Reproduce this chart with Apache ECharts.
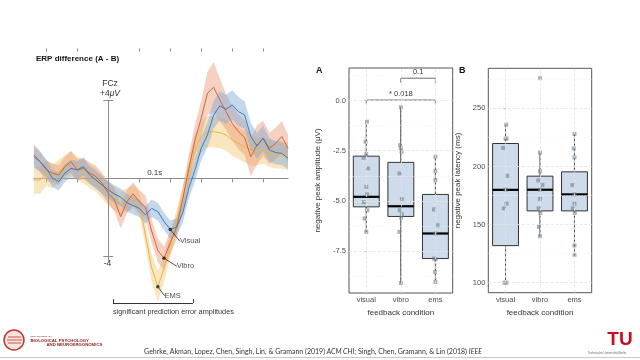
<!DOCTYPE html>
<html>
<head>
<meta charset="utf-8">
<script src="https://cdn.jsdelivr.net/npm/echarts@6/dist/echarts.min.js"></script>
<style>
html, body { margin: 0; padding: 0; background: #fff; }
#main { width: 640px; height: 360px; }
</style>
</head>
<body>
<div id="main"></div>
<script>
// ERP difference waves (uV), sampled every 20 ms
var times = [-0.24, -0.22, -0.20, -0.18, -0.16, -0.14, -0.12, -0.10, -0.08, -0.06, -0.04, -0.02,
	0.00, 0.02, 0.04, 0.06, 0.08, 0.10, 0.12, 0.14, 0.16, 0.18, 0.20, 0.22, 0.24, 0.26, 0.28, 0.30,
	0.32, 0.34, 0.36, 0.38, 0.40, 0.42, 0.44, 0.46, 0.48, 0.50, 0.52, 0.54, 0.56, 0.58];
var visualMean = [1.11, 0.85, 0.51, 0.0, -0.17, 0.26, 0.51, 0.43, 0.6, 0.17, -0.09, -0.34,
	-0.6, -0.8, -0.97, -1.25, -1.4, -1.54, -1.88, -1.54, -1.71, -2.22, -2.62, -2.51, -1.8, -0.5, 0.43, 1.54,
	2.22, 3.25, 3.71, 3.54, 3.76, 3.42, 3.25, 2.14, 1.66, 2.05, 1.45, 1.32, 1.28, 1.03];
var vibroMean = [1.2, 0.85, 0.43, 0.26, 0.17, 0.6, 0.85, 0.43, 0.51, 0.26, 0.09, -0.26,
	-0.77, -1.11, -1.97, -1.2, -0.8, -1.2, -1.5, -2.7, -3.7, -4.1, -3.3, -2.56, -1.1, 0.5, 1.97, 3.08,
	4.36, 4.67, 4.02, 3.42, 2.82, 2.39, 2.09, 1.11, 1.71, 2.05, 1.54, 1.79, 2.14, 1.54];
var emsMean = [-0.09, -0.09, 0.26, 0.09, 0.34, 0.6, 0.77, 0.51, 0.34, 0.09, -0.09, -0.43,
	-0.77, -1.03, -1.28, -1.11, -0.94, -1.28, -2.9, -4.6, -5.56, -4.62, -3.42, -2.22, -1.03, 0.26, 1.45, 2.14,
	2.39, 2.39, 2.34, 2.22, 1.97, 1.79, 1.62, 1.45, 1.37, 1.45, 1.28, 1.2, 1.2, 1.11];
// half width of the shaded bands
var visualCI = [0.55, 0.5, 0.45, 0.45, 0.45, 0.45, 0.45, 0.45, 0.45, 0.45, 0.45, 0.45,
	0.45, 0.45, 0.45, 0.45, 0.45, 0.45, 0.45, 0.45, 0.45, 0.45, 0.45, 0.45, 0.5, 0.55, 0.6, 0.6,
	0.65, 0.7, 0.75, 0.75, 0.75, 0.75, 0.7, 0.7, 0.65, 0.65, 0.6, 0.6, 0.6, 0.55];
var vibroCI = [0.55, 0.55, 0.5, 0.5, 0.5, 0.5, 0.55, 0.55, 0.55, 0.55, 0.55, 0.55,
	0.55, 0.6, 0.6, 0.6, 0.6, 0.6, 0.6, 0.6, 0.6, 0.6, 0.6, 0.6, 0.6, 0.7, 0.8, 0.9,
	1.1, 1.3, 1.1, 0.9, 0.9, 0.9, 0.9, 1.0, 1.0, 0.9, 0.8, 0.8, 0.8, 0.7];
var emsCI = [0.7, 0.7, 0.65, 0.6, 0.6, 0.6, 0.6, 0.6, 0.6, 0.6, 0.6, 0.6,
	0.6, 0.6, 0.6, 0.6, 0.6, 0.6, 0.6, 0.7, 0.8, 0.7, 0.6, 0.6, 0.6, 0.7, 0.8, 0.8,
	0.8, 0.8, 0.8, 0.8, 0.8, 0.8, 0.8, 0.8, 0.7, 0.7, 0.7, 0.7, 0.7, 0.7];
var erpTicks = [-0.2, -0.1, 0.1, 0.2, 0.3, 0.4, 0.5];
var sigWindow = [0.015, 0.273];
var peakNames = ['Visual', 'Vibro', 'EMS'];

// boxplots: [min, Q1, median, Q3, max]
var conditions = ['visual', 'vibro', 'ems'];
var ampBox = [[-6.55, -5.3, -4.8, -2.77, -1.05], [-9.1, -5.78, -5.27, -3.08, -0.33], [-9.05, -7.88, -6.63, -4.68, -2.8]];
var latBox = [[100, 131.9, 179.9, 219.8, 236.2], [140, 161.8, 180, 191.7, 211.8], [123.6, 161.8, 176, 195.4, 227.9]];
// single subjects: [condition, value, jitter]
var ampPoints = [
	[0, -1.05, 0.02], [0, -2.05, -0.02], [0, -2.67, 0], [0, -2.85, -0.08], [0, -3.38, 0.05], [0, -4.3, 0],
	[0, -4.68, 0.02], [0, -5.07, -0.07], [0, -5.47, 0.03], [0, -5.88, -0.05], [0, -6.55, 0],
	[1, -0.33, 0], [1, -2.22, -0.02], [1, -2.38, 0], [1, -2.55, 0.02], [1, -3.63, -0.04], [1, -4.92, 0.03],
	[1, -5.47, -0.03], [1, -5.68, 0.03], [1, -5.85, 0.01], [1, -6.55, -0.04], [1, -9.1, 0],
	[2, -2.8, 0], [2, -3.52, 0], [2, -3.97, 0], [2, -5.43, -0.04], [2, -6.22, 0.06], [2, -6.63, 0],
	[2, -7.88, -0.04], [2, -7.92, 0.01], [2, -8.55, -0.01], [2, -9.05, 0]
];
var latPoints = [
	[0, 236, 0.02], [0, 224, 0], [0, 224, 0.03], [0, 216, -0.07], [0, 192, 0.05], [0, 180, 0],
	[0, 168, 0.03], [0, 164, -0.05], [0, 100, -0.03], [0, 100, 0.03],
	[1, 276, 0], [1, 212, 0], [1, 196, 0], [1, 188, -0.05], [1, 184, 0.07], [1, 180, 0],
	[1, 172, 0], [1, 164, -0.04], [1, 160, 0.01], [1, 148, -0.03], [1, 140, 0],
	[2, 228, 0], [2, 215.5, -0.02], [2, 208, 0], [2, 184, -0.06], [2, 176, 0], [2, 168, 0],
	[2, 164, -0.05], [2, 160, 0.01], [2, 132, 0], [2, 124, 0]
];
var ampTicks = [-7.5, -5.0, -2.5, 0.0];
var ampMinor = [-8.75, -6.25, -3.75, -1.25, 1.25];
var latTicks = [100, 150, 200, 250];
var latMinor = [125, 175, 225, 275];
// [from, to, height, label]
var ampBrackets = [[0, 2, 0.03, '* 0.018'], [1, 2, 1.12, '0.1']];

var FONT = 'Liberation Sans, Arial, sans-serif';

// shaded band drawn as one polygon through the axis scales
function bandSeries(mean, ci, color) {
	return {
		type : 'custom', xAxisIndex : 0, yAxisIndex : 0, data : [[0, 0]], z : 2, silent : true,
		renderItem : function(params, api) {
			var up = [], lo = [];
			for (var i = 0; i < times.length; i++) {
				up.push(api.coord([times[i], mean[i] + ci[i]]));
				lo.unshift(api.coord([times[i], mean[i] - ci[i]]));
			}
			return { type : 'polygon', shape : { points : up.concat(lo) }, style : { fill : color } };
		}
	};
}
function meanSeries(mean, color, extra) {
	var d = [];
	for (var i = 0; i < times.length; i++) d.push([times[i], mean[i]]);
	return echarts.util.extend({
		type : 'line', xAxisIndex : 0, yAxisIndex : 0, data : d, symbol : 'none', silent : true,
		lineStyle : { color : color, width : 1 }, z : 3
	}, extra || {});
}
function argmin(a) {
	var k = 0;
	for (var i = 1; i < a.length; i++) if (a[i] < a[k]) k = i;
	return k;
}
var peakData = [visualMean, vibroMean, emsMean].map(function(m, k) {
	var i = argmin(m);
	return { value : [times[i], m[i]], name : peakNames[k] };
});
var peakLabelShift = [[6, 12], [9, 8], [3, 9]];

function renderBox(params, api) {
	var i = api.value(0);
	var p = [1, 2, 3, 4, 5].map(function(d) { return api.coord([i, api.value(d)]); });
	var bw = api.size([1, 0])[0] * 0.75;
	var cx = p[0][0];
	return {
		type : 'group',
		children : [
			{ type : 'line', shape : { x1 : cx, y1 : p[0][1], x2 : cx, y2 : p[4][1] }, style : { stroke : '#333', lineWidth : 1 } },
			{ type : 'rect', shape : { x : cx - bw / 2, y : p[3][1], width : bw, height : p[1][1] - p[3][1] },
				style : { fill : '#cddbea', stroke : '#333', lineWidth : 1 } },
			{ type : 'line', shape : { x1 : cx - bw / 2, y1 : p[2][1], x2 : cx + bw / 2, y2 : p[2][1] },
				style : { stroke : '#000', lineWidth : 2.2 } }
		]
	};
}
function renderBracket(params, api) {
	var b = ampBrackets[params.dataIndex];
	var a = api.coord([b[0], b[2]]), c = api.coord([b[1], b[2]]);
	var a0 = api.coord([b[0], b[2] - 0.22]), c0 = api.coord([b[1], b[2] - 0.22]);
	return {
		type : 'group',
		children : [
			{ type : 'polyline', shape : { points : [[a0[0], a0[1]], [a[0], a[1]], [c[0], c[1]], [c0[0], c0[1]]] },
				style : { stroke : '#444', lineWidth : 0.8, fill : null } },
			{ type : 'text', style : { text : b[3], x : (a[0] + c[0]) / 2, y : a[1] - 2, align : 'center', textAlign : 'center',
				verticalAlign : 'bottom', textVerticalAlign : 'bottom', fontSize : 7.5, fontFamily : FONT, fill : '#333' } }
		]
	};
}
function pointData(pts) {
	return pts.map(function(p) { return [p[0] + p[2], p[1]]; });
}
function gridLines(major, minor) {
	var d = [];
	major.forEach(function(v) { d.push({ yAxis : v, lineStyle : { color : '#e4e4e4', width : 0.8 } }); });
	minor.forEach(function(v) { d.push({ yAxis : v, lineStyle : { color : '#f3f3f3', width : 0.5 } }); });
	[0, 1, 2].forEach(function(v) { d.push({ xAxis : v, lineStyle : { color : '#e4e4e4', width : 0.8 } }); });
	return d;
}
function catAxis(grid) {
	return {
		gridIndex : grid, type : 'category', data : conditions,
		axisLine : { show : false },
		axisTick : { alignWithLabel : true, length : 2, lineStyle : { color : '#333' } },
		axisLabel : { fontSize : 7.5, color : '#4d4d4d', margin : 3, fontFamily : FONT },
		name : 'feedback condition', nameLocation : 'middle', nameGap : 16,
		nameTextStyle : { fontSize : 8, color : '#333', fontFamily : FONT }
	};
}
function valAxis(grid, min, max, ticks, fmt, name, gap) {
	return {
		gridIndex : grid, type : 'value', min : min, max : max,
		axisLine : { show : false },
		axisTick : { show : true, length : 2, customValues : ticks, lineStyle : { color : '#333' } },
		axisLabel : { customValues : ticks, formatter : fmt, fontSize : 7.5, color : '#4d4d4d', margin : 3, fontFamily : FONT },
		splitLine : { show : false },
		name : name, nameLocation : 'middle', nameGap : gap,
		nameTextStyle : { fontSize : 8, color : '#333', fontFamily : FONT }
	};
}

var dom = document.getElementById('main');
var chart = echarts.init(dom);

var series = [];
series.push(bandSeries(emsMean, emsCI, 'rgba(243,203,125,0.5)'));
series.push(bandSeries(vibroMean, vibroCI, 'rgba(230,145,110,0.42)'));
series.push(bandSeries(visualMean, visualCI, 'rgba(125,168,212,0.45)'));
series.push(meanSeries(emsMean, '#e8b54d', {
	markLine : {
		silent : true, symbol : 'none', animation : false, label : { show : false },
		lineStyle : { color : '#8c8c8c', width : 1, type : 'solid' },
		data : [
			[{ coord : [0, 4] }, { coord : [0, -4.28] }],
			[{ coord : [-0.016, 4] }, { coord : [0.016, 4] }],
			[{ coord : [-0.016, -4] }, { coord : [0.016, -4] }],
			[{ coord : [sigWindow[0], -6.2], lineStyle : { color : '#333' } }, { coord : [sigWindow[0], -6.39] }],
			[{ coord : [sigWindow[0], -6.39], lineStyle : { color : '#333' } }, { coord : [sigWindow[1], -6.39] }],
			[{ coord : [sigWindow[1], -6.39], lineStyle : { color : '#333' } }, { coord : [sigWindow[1], -6.2] }]
		]
	}
}));
series.push(meanSeries(vibroMean, '#d2643a'));
series.push(meanSeries(visualMean, '#3d78b5'));
series.push({
	type : 'scatter', xAxisIndex : 0, yAxisIndex : 0, data : peakData, symbolSize : 3.5, z : 5, silent : true,
	itemStyle : { color : '#111' },
	label : { show : true, position : 'right', distance : 2, formatter : '{b}', fontSize : 7.5, color : '#222', fontFamily : FONT },
	labelLayout : function(p) { return { dx : peakLabelShift[p.dataIndex][0], dy : peakLabelShift[p.dataIndex][1] }; },
	labelLine : { show : true, lineStyle : { color : '#222', width : 0.8 } }
});

// panel A
series.push({ type : 'line', xAxisIndex : 3, yAxisIndex : 1, data : [], z : 1, silent : true,
	markLine : { silent : true, symbol : 'none', animation : false, label : { show : false }, data : gridLines(ampTicks, ampMinor) } });
series.push({ type : 'custom', xAxisIndex : 2, yAxisIndex : 1, renderItem : renderBox, z : 2, silent : true,
	encode : { x : 0, y : [1, 2, 3, 4, 5] },
	data : ampBox.map(function(b, i) { return [i].concat(b); }) });
series.push({ type : 'scatter', xAxisIndex : 3, yAxisIndex : 1, data : pointData(ampPoints), symbol : 'rect', symbolSize : 4,
	itemStyle : { color : 'rgba(112,126,142,0.75)' }, z : 3, silent : true });
series.push({ type : 'custom', xAxisIndex : 2, yAxisIndex : 1, renderItem : renderBracket, z : 4, silent : true,
	encode : { x : 0, y : 2 }, data : ampBrackets.map(function(b) { return [b[0], b[1], b[2]]; }) });

// panel B
series.push({ type : 'line', xAxisIndex : 5, yAxisIndex : 2, data : [], z : 1, silent : true,
	markLine : { silent : true, symbol : 'none', animation : false, label : { show : false }, data : gridLines(latTicks, latMinor) } });
series.push({ type : 'custom', xAxisIndex : 4, yAxisIndex : 2, renderItem : renderBox, z : 2, silent : true,
	encode : { x : 0, y : [1, 2, 3, 4, 5] },
	data : latBox.map(function(b, i) { return [i].concat(b); }) });
series.push({ type : 'scatter', xAxisIndex : 5, yAxisIndex : 2, data : pointData(latPoints), symbol : 'rect', symbolSize : 4,
	itemStyle : { color : 'rgba(112,126,142,0.75)' }, z : 3, silent : true });

function txt(x, y, text, size, extra) {
	return {
		type : 'text', x : x, y : y, silent : true,
		style : echarts.util.extend({
			text : text, fontSize : size, fontFamily : FONT, fill : '#333',
			align : 'left', textAlign : 'left', verticalAlign : 'middle', textVerticalAlign : 'middle'
		}, extra || {})
	};
}
var C = { align : 'center', textAlign : 'center' };

var option = {
	animation : false,
	backgroundColor : '#fff',
	grid : [
		{ left : 33.9, right : 352, top : 51.55, bottom : 45.2 },
		{ left : 349, right : 187.3, top : 68, bottom : 67, show : true, borderColor : '#555', borderWidth : 1, backgroundColor : 'transparent' },
		{ left : 488.3, right : 48.3, top : 68.3, bottom : 67.3, show : true, borderColor : '#555', borderWidth : 1, backgroundColor : 'transparent' }
	],
	xAxis : [
		{ gridIndex : 0, type : 'value', min : -0.24, max : 0.58,
			axisLine : { onZero : true, lineStyle : { color : '#8c8c8c', width : 1 } },
			axisTick : { show : true, customValues : erpTicks, length : 4, lineStyle : { color : '#8c8c8c' } },
			axisLabel : { show : false }, splitLine : { show : false } },
		{ gridIndex : 0, type : 'value', position : 'top', min : -0.24, max : 0.58,
			axisLine : { show : false, onZero : true },
			axisTick : { show : true, customValues : erpTicks, length : 3, lineStyle : { color : '#8c8c8c' } },
			axisLabel : { show : false }, splitLine : { show : false } },
		catAxis(1),
		{ gridIndex : 1, type : 'value', min : -0.5, max : 2.5, show : false },
		catAxis(2),
		{ gridIndex : 2, type : 'value', min : -0.5, max : 2.5, show : false }
	],
	yAxis : [
		{ gridIndex : 0, type : 'value', min : -7, max : 6.5, show : false },
		valAxis(1, -9.6, 1.63, ampTicks, function(v) { return v.toFixed(1); }, 'negative peak amplitude (μV)', 27),
		valAxis(2, 91.4, 284.5, latTicks, function(v) { return String(v); }, 'negative peak latency (ms)', 26.6)
	],
	series : series,
	graphic : [
		txt(36, 58.3, 'ERP difference (A - B)', 8, { fontWeight : 'bold', fill : '#111' }),
		txt(110, 83.5, 'FCz', 8.5, C),
		txt(110, 94, '+4{i|μV}', 8.5, echarts.util.extend({ rich : { i : { fontStyle : 'italic', fontSize : 8.5, fontFamily : FONT, fill : '#333' } } }, C)),
		txt(107.5, 264, '-4', 8.5, C),
		txt(154.7, 172.5, '0.1s', 8, C),
		txt(113, 311.7, 'significant prediction error amplitudes', 7.3),
		txt(316, 70.5, 'A', 9, { fontWeight : 'bold', fill : '#111' }),
		txt(459, 71, 'B', 9, { fontWeight : 'bold', fill : '#111' }),
		txt(313, 352, 'Gehrke, Akman, Lopez, Chen, Singh, Lin, & Gramann (2019) {i|ACM CHI}; Singh, Chen, Gramann, & Lin (2018) {i|IEEE}', 7,
			echarts.util.extend({ fontFamily : 'Lato, sans-serif', rich : { i : { fontStyle : 'italic', fontSize : 7, fontFamily : 'Lato, sans-serif', fill : '#333' } } }, C)),
		{ type : 'line', silent : true, shape : { x1 : 0, y1 : 357.5, x2 : 640, y2 : 357.5 }, style : { stroke : '#c8c8c8', lineWidth : 1 } },
		{ type : 'circle', silent : true, shape : { cx : 14, cy : 340, r : 10 }, style : { fill : '#f7e3e0', stroke : '#c0392b', lineWidth : 1.5 } },
		{ type : 'line', silent : true, shape : { x1 : 8, y1 : 337, x2 : 21, y2 : 337 }, style : { stroke : '#c0392b', lineWidth : 0.8 } },
		{ type : 'line', silent : true, shape : { x1 : 7, y1 : 340, x2 : 22, y2 : 340 }, style : { stroke : '#c0392b', lineWidth : 0.8 } },
		{ type : 'line', silent : true, shape : { x1 : 8, y1 : 343, x2 : 21, y2 : 343 }, style : { stroke : '#c0392b', lineWidth : 0.8 } },
		txt(30.5, 336.5, 'DEPARTMENT OF', 2.5, { fill : '#8b1a1a' }),
		txt(30.5, 340.7, 'BIOLOGICAL PSYCHOLOGY', 4.3, { fill : '#8b1a1a', fontWeight : 'bold' }),
		txt(46.5, 345.3, 'AND NEUROERGONOMICS', 4.3, { fill : '#8b1a1a', fontWeight : 'bold' }),
		txt(620, 340, 'TU', 19, echarts.util.extend({ fill : '#c50e1f', fontWeight : 'bold' }, C)),
		txt(607, 353.3, 'Technische Universität Berlin', 3, echarts.util.extend({ fill : '#666' }, C))
	]
};
chart.setOption(option);
</script>
</body>
</html>
